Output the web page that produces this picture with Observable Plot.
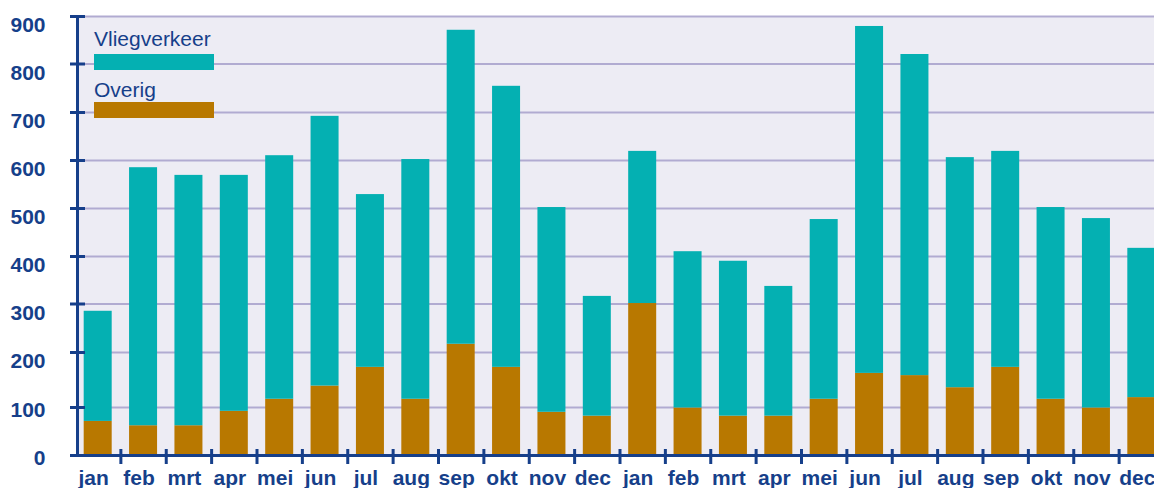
<!DOCTYPE html>
<html><head><meta charset="utf-8">
<script src="https://cdn.jsdelivr.net/npm/d3@7"></script>
<script src="https://cdn.jsdelivr.net/npm/@observablehq/plot@0.6"></script>
<style>
html,body{margin:0;padding:0;background:#fff;overflow:hidden;}
#wrap{position:relative;width:1154px;height:488px;overflow:hidden;font-family:"Liberation Sans",Arial,sans-serif;}
#wrap svg{display:block;}
.leg{position:absolute;left:94px;font-size:21px;line-height:21px;color:#163F8A;white-space:nowrap;}
.sw{position:absolute;left:94px;width:120px;height:16px;}
</style></head><body><div id="wrap"></div>
<script>
const months = ["jan","feb","mrt","apr","mei","jun","jul","aug","sep","okt","nov","dec",
                "jan","feb","mrt","apr","mei","jun","jul","aug","sep","okt","nov","dec"];
const overig = [71,62,62,92,115,139,173,115,217,173,90,82,301,99,82,82,115,162,158,136,173,115,99,118];
const vliegverkeer = [214,523,507,477,495,553,356,487,654,581,412,234,318,311,308,255,362,717,662,470,446,387,380,299];
const series = ["Overig","Vliegverkeer"]; // bottom -> top
const seriesColors = ["#B87800","#04B0B2"];
const yTicks = [0,100,200,300,400,500,600,700,800,900];

const seriesValues = [overig, vliegverkeer];
const data = [];
series.forEach((s, k) => seriesValues[k].forEach((v, i) => data.push({i, series: s, value: v})));
const idx = months.map((_, i) => i);

const blue = "#163F8A";
const font = '"Liberation Sans", Arial, sans-serif';
const step = (1164 - 75) / idx.length;

const plot = Plot.plot({
  width: 1154, height: 488,
  marginLeft: 77, marginRight: 0, marginTop: 16, marginBottom: 33,
  style: {fontFamily: font, background: "transparent", overflow: "hidden"},
  x: {type: "band", domain: idx, range: [75, 1164], paddingInner: 0.383, paddingOuter: 0.1915, align: 0.5, round: false, label: null},
  y: {type: "linear", domain: yTicks, range: [455, 407, 352, 303.5, 256, 208, 160, 112, 63.5, 16], label: null},
  color: {domain: series, range: seriesColors},
  marks: [
    Plot.frame({fill: "#EDECF4", stroke: "none"}),
    Plot.gridY(yTicks.slice(1), {stroke: "#B1ABD1", strokeOpacity: 1, strokeWidth: 2}),
    Plot.barY(data, {x: "i", y: "value", fill: "series", order: series}),
    Plot.ruleY([0], {stroke: blue, strokeWidth: 3}),
    Plot.frame({anchor: "left", stroke: blue, strokeWidth: 3}),
    Plot.axisY(yTicks, {tickSize: 15, dx: 8, fill: "none", stroke: blue, strokeWidth: 3, label: null}),
    Plot.axisY(yTicks.slice(0, 2), {tickSize: 0, tickPadding: 32, dy: 3, fontSize: 21, fontWeight: "bold", fill: blue, label: null}),
    Plot.axisY(yTicks.slice(2), {tickSize: 0, tickPadding: 32, dy: 9, fontSize: 21, fontWeight: "bold", fill: blue, label: null}),
    Plot.axisX(idx.slice(0, -1), {tickSize: 15, dx: step / 2, dy: -6, fill: "none", stroke: blue, strokeWidth: 3, label: null}),
    Plot.axisX(idx, {tickSize: 0, tickPadding: 15, dx: -4.5, tickFormat: i => months[i], fontSize: 21, fontWeight: "bold", fill: blue, label: null})
  ]
});
const wrap = document.getElementById("wrap");
wrap.appendChild(plot);

// legend overlay (inside plot area, top-left)
const legendSeries = series.slice().reverse();
const textTops = [28, 79], swatchTops = [54, 102];
legendSeries.forEach((s, k) => {
  const t = document.createElement("div");
  t.className = "leg"; t.style.top = textTops[k] + "px"; t.textContent = s;
  wrap.appendChild(t);
  const sw = document.createElement("div");
  sw.className = "sw"; sw.style.top = swatchTops[k] + "px";
  sw.style.background = seriesColors[series.indexOf(s)];
  wrap.appendChild(sw);
});
</script></body></html>
